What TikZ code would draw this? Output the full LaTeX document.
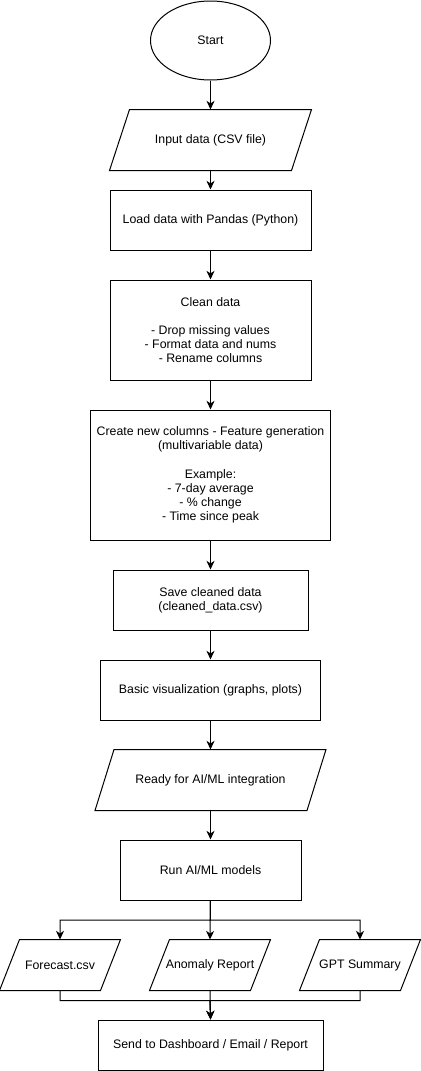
\documentclass[tikz,border=0pt]{standalone}
\usepackage{fontspec}
\setmainfont{Liberation Sans}
\usetikzlibrary{shapes.geometric,arrows.meta,calc}
\newcommand\drawpara[2]{\draw[conn] ([xshift=#2]#1.north west) -- (#1.north east) -- ([xshift=-#2]#1.south east) -- (#1.south west) -- cycle;}
\begin{document}
\begin{tikzpicture}[x=0.75pt,y=-0.75pt,
  base/.style={font=\fontsize{9.25}{10.6}\selectfont, align=center, inner sep=0pt, line width=0.75pt},
  proc/.style={base, draw, rectangle},
  io/.style={base, rectangle},
  term/.style={base, draw, ellipse},
  conn/.style={line width=0.75pt},
  arr/.style={conn, -{Stealth[length=6.5pt,width=6pt,inset=2pt]}}]
\useasboundingbox (0,0) rectangle (421,1071);

\node[term, minimum width=90pt, minimum height=59.25pt] (start) at (210.5,40.5) {Start};
\node[io, minimum width=150.75pt, minimum height=45pt] (input) at (210.5,140) {Input data (CSV file)};
\node[proc, minimum width=150.75pt, minimum height=45pt] (load) at (210.5,220) {Load data with Pandas (Python)};
\node[proc, minimum width=150.75pt, minimum height=75pt] (clean) at (210.5,330) {Clean data\\[10.6pt]- Drop missing values\\- Format data and nums\\- Rename columns};
\node[proc, minimum width=180pt, minimum height=97.5pt] (create) at (210.5,475) {Create new columns - Feature generation\\(multivariable data)\\[10.6pt]Example:\\- 7-day average\\- \% change\\- Time since peak};
\node[proc, minimum width=146.25pt, minimum height=45pt] (save) at (210.5,600) {Save cleaned data\\(cleaned\_data.csv)};
\node[proc, minimum width=165pt, minimum height=45pt] (basic) at (210.5,690) {Basic visualization (graphs, plots)};
\node[io, minimum width=172.5pt, minimum height=45pt] (ready) at (210.5,780) {Ready for AI/ML integration};
\node[proc, minimum width=135.75pt, minimum height=45pt] (run) at (210.5,870) {Run AI/ML models};
\node[io, minimum width=90pt, minimum height=37.5pt] (fc) at (60,965) {Forecast.csv};
\node[io, minimum width=90pt, minimum height=37.5pt] (an) at (210,965) {Anomaly Report};
\node[io, minimum width=90pt, minimum height=37.5pt] (gpt) at (360,965) {GPT Summary};
\node[proc, minimum width=168.75pt, minimum height=37.5pt] (send) at (210.5,1045) {Send to Dashboard / Email / Report};

\drawpara{input}{15pt}
\drawpara{ready}{14.25pt}
\drawpara{fc}{15pt}
\drawpara{an}{15pt}
\drawpara{gpt}{15pt}

\draw[arr] (start) -- (input);
\draw[arr] (input) -- (load);
\draw[arr] (load) -- (clean);
\draw[arr] (clean) -- (create);
\draw[arr] (create) -- (save);
\draw[arr] (save) -- (basic);
\draw[arr] (basic) -- (ready);
\draw[arr] (ready) -- (run);

\coordinate (split) at ($(run.south)!0.5!(an.north)$);
\draw[arr] (run.south) -- (an.north);
\draw[arr] (run.south) -- (split) -| (fc.north);
\draw[arr] (run.south) -- (split) -| (gpt.north);

\coordinate (merge) at ($(an.south)+(0,10)$);
\draw[arr] (an.south) -- (send.north);
\draw[arr] (fc.south) |- (merge) -- (send.north);
\draw[arr] (gpt.south) |- (merge) -- (send.north);
\end{tikzpicture}
\end{document}
